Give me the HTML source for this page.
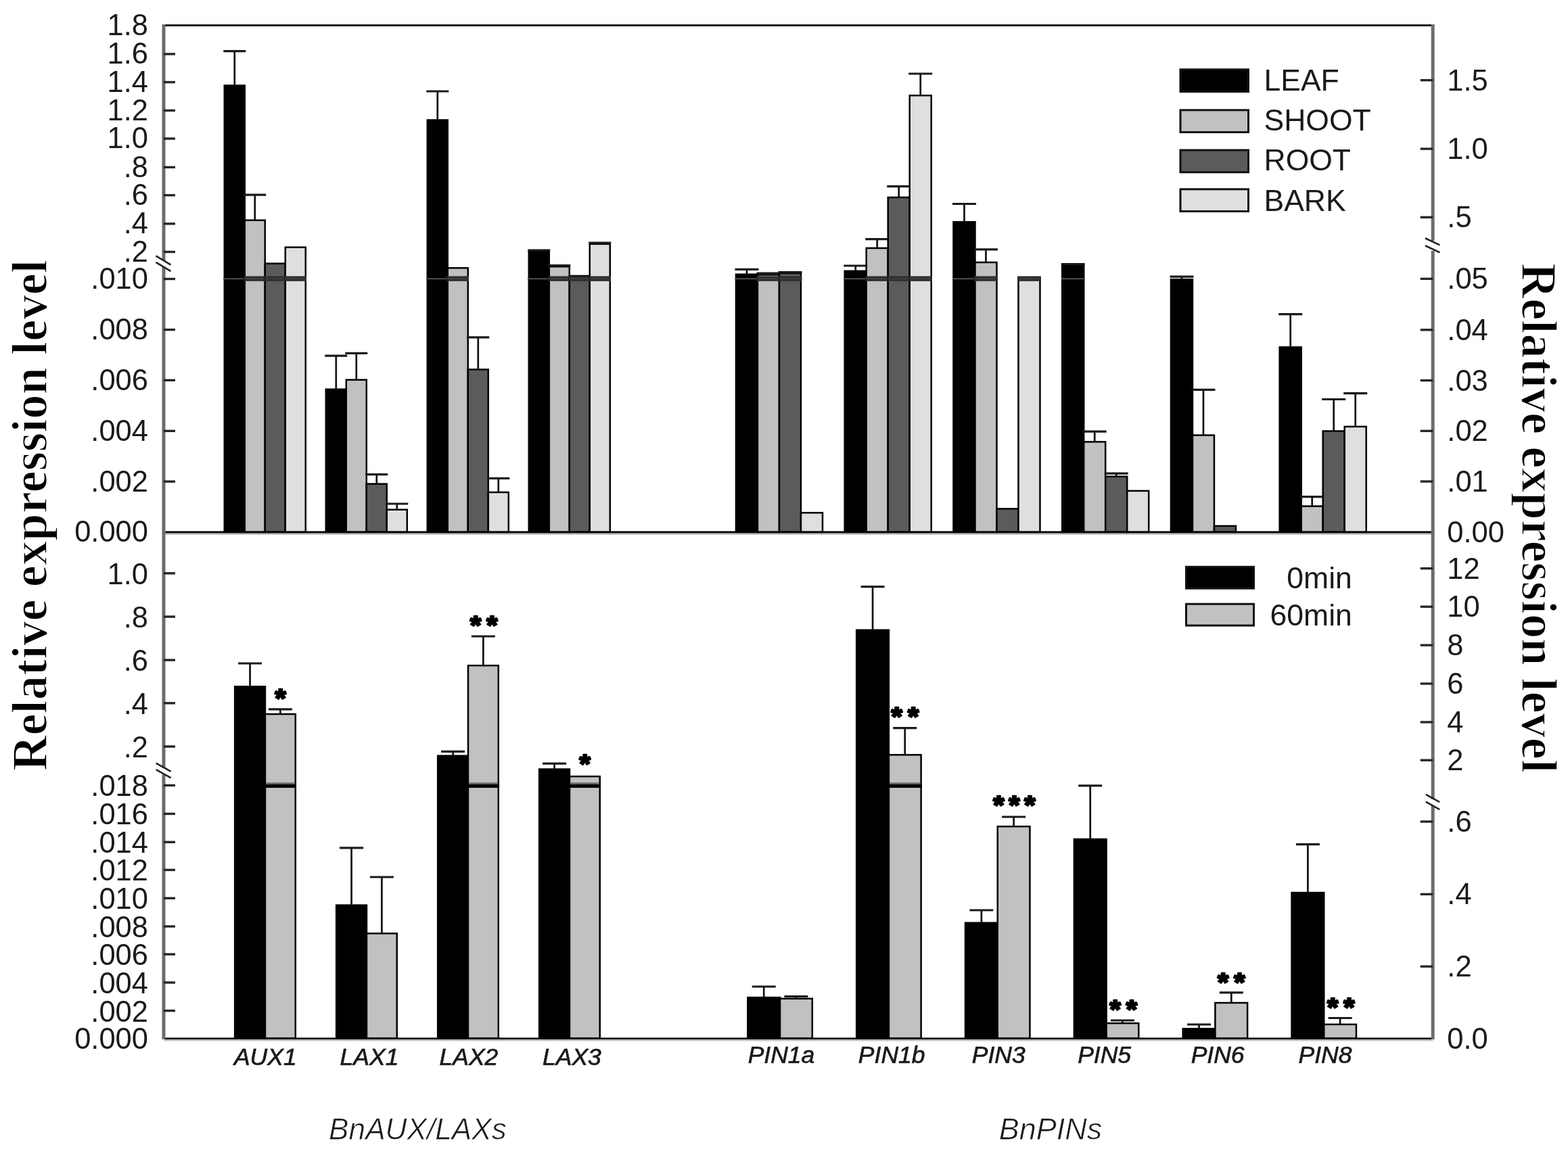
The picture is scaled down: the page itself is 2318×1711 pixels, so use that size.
<!DOCTYPE html>
<html><head><meta charset="utf-8"><title>Relative expression level</title><style>html,body{margin:0;padding:0;background:#fff;}svg{display:block;}</style></head><body>
<svg width="2318" height="1711" viewBox="0 0 2318 1711">
<rect x="0" y="0" width="2318" height="1711" fill="#fff"/>
<rect x="331.80" y="412.20" width="30.00" height="374.80" fill="#000000" stroke="#000" stroke-width="2.5"/>
<rect x="331.80" y="126.40" width="30.00" height="285.80" fill="#000000" stroke="#000" stroke-width="2.5"/>
<rect x="330.60" y="411.20" width="32.40" height="2.0" fill="#505050"/>
<line x1="346.80" y1="126.40" x2="346.80" y2="75.60" stroke="#111" stroke-width="2.7"/>
<line x1="330.30" y1="75.60" x2="363.30" y2="75.60" stroke="#1a1a1a" stroke-width="3.2"/>
<rect x="361.80" y="412.20" width="30.00" height="374.80" fill="#c1c1c1" stroke="#000" stroke-width="2.5"/>
<rect x="361.80" y="325.70" width="30.00" height="86.50" fill="#c1c1c1" stroke="#000" stroke-width="2.5"/>
<rect x="360.60" y="408.40" width="32.40" height="7.4" fill="#2e2e2e"/>
<rect x="363.00" y="411.20" width="27.60" height="2.0" fill="#3e3e3e"/>
<line x1="376.80" y1="325.70" x2="376.80" y2="288.20" stroke="#111" stroke-width="2.7"/>
<line x1="360.30" y1="288.20" x2="393.30" y2="288.20" stroke="#1a1a1a" stroke-width="3.2"/>
<rect x="391.80" y="412.20" width="30.00" height="374.80" fill="#5b5b5b" stroke="#000" stroke-width="2.5"/>
<rect x="391.80" y="389.70" width="30.00" height="22.50" fill="#5b5b5b" stroke="#000" stroke-width="2.5"/>
<rect x="390.60" y="408.40" width="32.40" height="7.4" fill="#2e2e2e"/>
<rect x="393.00" y="411.20" width="27.60" height="2.0" fill="#3e3e3e"/>
<rect x="421.80" y="412.20" width="30.00" height="374.80" fill="#dfdfdf" stroke="#000" stroke-width="2.5"/>
<rect x="421.80" y="365.70" width="30.00" height="46.50" fill="#dfdfdf" stroke="#000" stroke-width="2.5"/>
<rect x="420.60" y="408.40" width="32.40" height="7.4" fill="#2e2e2e"/>
<rect x="423.00" y="411.20" width="27.60" height="2.0" fill="#3e3e3e"/>
<rect x="481.80" y="575.70" width="30.00" height="211.30" fill="#000000" stroke="#000" stroke-width="2.5"/>
<line x1="496.80" y1="575.70" x2="496.80" y2="526.20" stroke="#111" stroke-width="2.7"/>
<line x1="480.30" y1="526.20" x2="513.30" y2="526.20" stroke="#1a1a1a" stroke-width="3.2"/>
<rect x="511.80" y="561.70" width="30.00" height="225.30" fill="#c1c1c1" stroke="#000" stroke-width="2.5"/>
<line x1="526.80" y1="561.70" x2="526.80" y2="522.40" stroke="#111" stroke-width="2.7"/>
<line x1="510.30" y1="522.40" x2="543.30" y2="522.40" stroke="#1a1a1a" stroke-width="3.2"/>
<rect x="541.80" y="715.60" width="30.00" height="71.40" fill="#5b5b5b" stroke="#000" stroke-width="2.5"/>
<line x1="556.80" y1="715.60" x2="556.80" y2="701.70" stroke="#111" stroke-width="2.7"/>
<line x1="540.30" y1="701.70" x2="573.30" y2="701.70" stroke="#1a1a1a" stroke-width="3.2"/>
<rect x="571.80" y="753.70" width="30.00" height="33.30" fill="#dfdfdf" stroke="#000" stroke-width="2.5"/>
<line x1="586.80" y1="753.70" x2="586.80" y2="745.00" stroke="#111" stroke-width="2.7"/>
<line x1="570.30" y1="745.00" x2="603.30" y2="745.00" stroke="#1a1a1a" stroke-width="3.2"/>
<rect x="631.80" y="412.20" width="30.00" height="374.80" fill="#000000" stroke="#000" stroke-width="2.5"/>
<rect x="631.80" y="177.50" width="30.00" height="234.70" fill="#000000" stroke="#000" stroke-width="2.5"/>
<rect x="630.60" y="411.20" width="32.40" height="2.0" fill="#505050"/>
<line x1="646.80" y1="177.50" x2="646.80" y2="135.00" stroke="#111" stroke-width="2.7"/>
<line x1="630.30" y1="135.00" x2="663.30" y2="135.00" stroke="#1a1a1a" stroke-width="3.2"/>
<rect x="661.80" y="412.20" width="30.00" height="374.80" fill="#c1c1c1" stroke="#000" stroke-width="2.5"/>
<rect x="661.80" y="396.30" width="30.00" height="15.90" fill="#c1c1c1" stroke="#000" stroke-width="2.5"/>
<rect x="660.60" y="408.40" width="32.40" height="7.4" fill="#2e2e2e"/>
<rect x="663.00" y="411.20" width="27.60" height="2.0" fill="#3e3e3e"/>
<rect x="691.80" y="546.40" width="30.00" height="240.60" fill="#5b5b5b" stroke="#000" stroke-width="2.5"/>
<line x1="706.80" y1="546.40" x2="706.80" y2="498.80" stroke="#111" stroke-width="2.7"/>
<line x1="690.30" y1="498.80" x2="723.30" y2="498.80" stroke="#1a1a1a" stroke-width="3.2"/>
<rect x="721.80" y="728.00" width="30.00" height="59.00" fill="#dfdfdf" stroke="#000" stroke-width="2.5"/>
<line x1="736.80" y1="728.00" x2="736.80" y2="707.40" stroke="#111" stroke-width="2.7"/>
<line x1="720.30" y1="707.40" x2="753.30" y2="707.40" stroke="#1a1a1a" stroke-width="3.2"/>
<rect x="781.80" y="412.20" width="30.00" height="374.80" fill="#000000" stroke="#000" stroke-width="2.5"/>
<rect x="781.80" y="371.70" width="30.00" height="40.50" fill="#000000" stroke="#000" stroke-width="2.5"/>
<rect x="780.60" y="411.20" width="32.40" height="2.0" fill="#505050"/>
<line x1="796.80" y1="371.70" x2="796.80" y2="370.00" stroke="#111" stroke-width="2.7"/>
<line x1="780.30" y1="370.00" x2="813.30" y2="370.00" stroke="#1a1a1a" stroke-width="3.2"/>
<rect x="811.80" y="412.20" width="30.00" height="374.80" fill="#c1c1c1" stroke="#000" stroke-width="2.5"/>
<rect x="811.80" y="394.20" width="30.00" height="18.00" fill="#c1c1c1" stroke="#000" stroke-width="2.5"/>
<rect x="810.60" y="408.40" width="32.40" height="7.4" fill="#2e2e2e"/>
<rect x="813.00" y="411.20" width="27.60" height="2.0" fill="#3e3e3e"/>
<line x1="826.80" y1="394.20" x2="826.80" y2="392.50" stroke="#111" stroke-width="2.7"/>
<line x1="810.30" y1="392.50" x2="843.30" y2="392.50" stroke="#1a1a1a" stroke-width="3.2"/>
<rect x="841.80" y="412.20" width="30.00" height="374.80" fill="#5b5b5b" stroke="#000" stroke-width="2.5"/>
<rect x="841.80" y="408.00" width="30.00" height="4.20" fill="#5b5b5b" stroke="#000" stroke-width="2.5"/>
<rect x="840.60" y="408.40" width="32.40" height="7.4" fill="#2e2e2e"/>
<rect x="843.00" y="411.20" width="27.60" height="2.0" fill="#3e3e3e"/>
<rect x="871.80" y="412.20" width="30.00" height="374.80" fill="#dfdfdf" stroke="#000" stroke-width="2.5"/>
<rect x="871.80" y="360.80" width="30.00" height="51.40" fill="#dfdfdf" stroke="#000" stroke-width="2.5"/>
<rect x="870.60" y="408.40" width="32.40" height="7.4" fill="#2e2e2e"/>
<rect x="873.00" y="411.20" width="27.60" height="2.0" fill="#3e3e3e"/>
<line x1="886.80" y1="360.80" x2="886.80" y2="359.20" stroke="#111" stroke-width="2.7"/>
<line x1="870.30" y1="359.20" x2="903.30" y2="359.20" stroke="#1a1a1a" stroke-width="3.2"/>
<rect x="1088.00" y="412.20" width="32.00" height="374.80" fill="#000000" stroke="#000" stroke-width="2.5"/>
<rect x="1088.00" y="405.70" width="32.00" height="6.50" fill="#000000" stroke="#000" stroke-width="2.5"/>
<rect x="1086.80" y="411.20" width="34.40" height="2.0" fill="#505050"/>
<line x1="1104.00" y1="405.70" x2="1104.00" y2="398.40" stroke="#111" stroke-width="2.7"/>
<line x1="1086.50" y1="398.40" x2="1121.50" y2="398.40" stroke="#1a1a1a" stroke-width="3.2"/>
<rect x="1120.00" y="412.20" width="32.00" height="374.80" fill="#c1c1c1" stroke="#000" stroke-width="2.5"/>
<rect x="1120.00" y="406.40" width="32.00" height="5.80" fill="#c1c1c1" stroke="#000" stroke-width="2.5"/>
<rect x="1118.80" y="408.40" width="34.40" height="7.4" fill="#2e2e2e"/>
<rect x="1121.20" y="411.20" width="29.60" height="2.0" fill="#3e3e3e"/>
<line x1="1136.00" y1="406.40" x2="1136.00" y2="404.00" stroke="#111" stroke-width="2.7"/>
<line x1="1118.50" y1="404.00" x2="1153.50" y2="404.00" stroke="#1a1a1a" stroke-width="3.2"/>
<rect x="1152.00" y="412.20" width="32.00" height="374.80" fill="#5b5b5b" stroke="#000" stroke-width="2.5"/>
<rect x="1152.00" y="404.00" width="32.00" height="8.20" fill="#5b5b5b" stroke="#000" stroke-width="2.5"/>
<rect x="1150.80" y="408.40" width="34.40" height="7.4" fill="#2e2e2e"/>
<rect x="1153.20" y="411.20" width="29.60" height="2.0" fill="#3e3e3e"/>
<line x1="1168.00" y1="404.00" x2="1168.00" y2="402.50" stroke="#111" stroke-width="2.7"/>
<line x1="1150.50" y1="402.50" x2="1185.50" y2="402.50" stroke="#1a1a1a" stroke-width="3.2"/>
<rect x="1184.00" y="758.30" width="32.00" height="28.70" fill="#dfdfdf" stroke="#000" stroke-width="2.5"/>
<rect x="1248.74" y="412.20" width="32.00" height="374.80" fill="#000000" stroke="#000" stroke-width="2.5"/>
<rect x="1248.74" y="400.80" width="32.00" height="11.40" fill="#000000" stroke="#000" stroke-width="2.5"/>
<rect x="1247.54" y="411.20" width="34.40" height="2.0" fill="#505050"/>
<line x1="1264.74" y1="400.80" x2="1264.74" y2="393.00" stroke="#111" stroke-width="2.7"/>
<line x1="1247.24" y1="393.00" x2="1282.24" y2="393.00" stroke="#1a1a1a" stroke-width="3.2"/>
<rect x="1280.74" y="412.20" width="32.00" height="374.80" fill="#c1c1c1" stroke="#000" stroke-width="2.5"/>
<rect x="1280.74" y="366.90" width="32.00" height="45.30" fill="#c1c1c1" stroke="#000" stroke-width="2.5"/>
<rect x="1279.54" y="408.40" width="34.40" height="7.4" fill="#2e2e2e"/>
<rect x="1281.94" y="411.20" width="29.60" height="2.0" fill="#3e3e3e"/>
<line x1="1296.74" y1="366.90" x2="1296.74" y2="353.60" stroke="#111" stroke-width="2.7"/>
<line x1="1279.24" y1="353.60" x2="1314.24" y2="353.60" stroke="#1a1a1a" stroke-width="3.2"/>
<rect x="1312.74" y="412.20" width="32.00" height="374.80" fill="#5b5b5b" stroke="#000" stroke-width="2.5"/>
<rect x="1312.74" y="291.90" width="32.00" height="120.30" fill="#5b5b5b" stroke="#000" stroke-width="2.5"/>
<rect x="1311.54" y="408.40" width="34.40" height="7.4" fill="#2e2e2e"/>
<rect x="1313.94" y="411.20" width="29.60" height="2.0" fill="#3e3e3e"/>
<line x1="1328.74" y1="291.90" x2="1328.74" y2="275.60" stroke="#111" stroke-width="2.7"/>
<line x1="1311.24" y1="275.60" x2="1346.24" y2="275.60" stroke="#1a1a1a" stroke-width="3.2"/>
<rect x="1344.74" y="412.20" width="32.00" height="374.80" fill="#dfdfdf" stroke="#000" stroke-width="2.5"/>
<rect x="1344.74" y="141.20" width="32.00" height="271.00" fill="#dfdfdf" stroke="#000" stroke-width="2.5"/>
<rect x="1343.54" y="408.40" width="34.40" height="7.4" fill="#2e2e2e"/>
<rect x="1345.94" y="411.20" width="29.60" height="2.0" fill="#3e3e3e"/>
<line x1="1360.74" y1="141.20" x2="1360.74" y2="109.00" stroke="#111" stroke-width="2.7"/>
<line x1="1343.24" y1="109.00" x2="1378.24" y2="109.00" stroke="#1a1a1a" stroke-width="3.2"/>
<rect x="1409.48" y="412.20" width="32.00" height="374.80" fill="#000000" stroke="#000" stroke-width="2.5"/>
<rect x="1409.48" y="328.20" width="32.00" height="84.00" fill="#000000" stroke="#000" stroke-width="2.5"/>
<rect x="1408.28" y="411.20" width="34.40" height="2.0" fill="#505050"/>
<line x1="1425.48" y1="328.20" x2="1425.48" y2="301.50" stroke="#111" stroke-width="2.7"/>
<line x1="1407.98" y1="301.50" x2="1442.98" y2="301.50" stroke="#1a1a1a" stroke-width="3.2"/>
<rect x="1441.48" y="412.20" width="32.00" height="374.80" fill="#c1c1c1" stroke="#000" stroke-width="2.5"/>
<rect x="1441.48" y="388.00" width="32.00" height="24.20" fill="#c1c1c1" stroke="#000" stroke-width="2.5"/>
<rect x="1440.28" y="408.40" width="34.40" height="7.4" fill="#2e2e2e"/>
<rect x="1442.68" y="411.20" width="29.60" height="2.0" fill="#3e3e3e"/>
<line x1="1457.48" y1="388.00" x2="1457.48" y2="368.80" stroke="#111" stroke-width="2.7"/>
<line x1="1439.98" y1="368.80" x2="1474.98" y2="368.80" stroke="#1a1a1a" stroke-width="3.2"/>
<rect x="1473.48" y="752.40" width="32.00" height="34.60" fill="#5b5b5b" stroke="#000" stroke-width="2.5"/>
<rect x="1505.48" y="412.20" width="32.00" height="374.80" fill="#dfdfdf" stroke="#000" stroke-width="2.5"/>
<rect x="1505.48" y="410.20" width="32.00" height="2.00" fill="#dfdfdf" stroke="#000" stroke-width="2.5"/>
<rect x="1504.28" y="408.40" width="34.40" height="7.4" fill="#2e2e2e"/>
<rect x="1506.68" y="411.20" width="29.60" height="2.0" fill="#3e3e3e"/>
<rect x="1570.22" y="412.20" width="32.00" height="374.80" fill="#000000" stroke="#000" stroke-width="2.5"/>
<rect x="1570.22" y="392.20" width="32.00" height="20.00" fill="#000000" stroke="#000" stroke-width="2.5"/>
<rect x="1569.02" y="411.20" width="34.40" height="2.0" fill="#505050"/>
<line x1="1586.22" y1="392.20" x2="1586.22" y2="390.50" stroke="#111" stroke-width="2.7"/>
<line x1="1568.72" y1="390.50" x2="1603.72" y2="390.50" stroke="#1a1a1a" stroke-width="3.2"/>
<rect x="1602.22" y="653.40" width="32.00" height="133.60" fill="#c1c1c1" stroke="#000" stroke-width="2.5"/>
<line x1="1618.22" y1="653.40" x2="1618.22" y2="638.10" stroke="#111" stroke-width="2.7"/>
<line x1="1600.72" y1="638.10" x2="1635.72" y2="638.10" stroke="#1a1a1a" stroke-width="3.2"/>
<rect x="1634.22" y="704.70" width="32.00" height="82.30" fill="#5b5b5b" stroke="#000" stroke-width="2.5"/>
<line x1="1650.22" y1="704.70" x2="1650.22" y2="700.20" stroke="#111" stroke-width="2.7"/>
<line x1="1632.72" y1="700.20" x2="1667.72" y2="700.20" stroke="#1a1a1a" stroke-width="3.2"/>
<rect x="1666.22" y="725.90" width="32.00" height="61.10" fill="#dfdfdf" stroke="#000" stroke-width="2.5"/>
<rect x="1730.96" y="413.20" width="32.00" height="373.80" fill="#000000" stroke="#000" stroke-width="2.5"/>
<line x1="1746.96" y1="413.20" x2="1746.96" y2="409.20" stroke="#111" stroke-width="2.7"/>
<line x1="1729.46" y1="409.20" x2="1764.46" y2="409.20" stroke="#1a1a1a" stroke-width="3.2"/>
<rect x="1762.96" y="643.60" width="32.00" height="143.40" fill="#c1c1c1" stroke="#000" stroke-width="2.5"/>
<line x1="1778.96" y1="643.60" x2="1778.96" y2="576.30" stroke="#111" stroke-width="2.7"/>
<line x1="1761.46" y1="576.30" x2="1796.46" y2="576.30" stroke="#1a1a1a" stroke-width="3.2"/>
<rect x="1794.96" y="777.80" width="32.00" height="9.20" fill="#5b5b5b" stroke="#000" stroke-width="2.5"/>
<rect x="1826.96" y="787.20" width="32.00" height="-0.20" fill="#dfdfdf" stroke="#000" stroke-width="2.5"/>
<rect x="1891.70" y="513.40" width="32.00" height="273.60" fill="#000000" stroke="#000" stroke-width="2.5"/>
<line x1="1907.70" y1="513.40" x2="1907.70" y2="464.70" stroke="#111" stroke-width="2.7"/>
<line x1="1890.20" y1="464.70" x2="1925.20" y2="464.70" stroke="#1a1a1a" stroke-width="3.2"/>
<rect x="1923.70" y="748.60" width="32.00" height="38.40" fill="#c1c1c1" stroke="#000" stroke-width="2.5"/>
<line x1="1939.70" y1="748.60" x2="1939.70" y2="734.70" stroke="#111" stroke-width="2.7"/>
<line x1="1922.20" y1="734.70" x2="1957.20" y2="734.70" stroke="#1a1a1a" stroke-width="3.2"/>
<rect x="1955.70" y="637.50" width="32.00" height="149.50" fill="#5b5b5b" stroke="#000" stroke-width="2.5"/>
<line x1="1971.70" y1="637.50" x2="1971.70" y2="590.50" stroke="#111" stroke-width="2.7"/>
<line x1="1954.20" y1="590.50" x2="1989.20" y2="590.50" stroke="#1a1a1a" stroke-width="3.2"/>
<rect x="1987.70" y="630.90" width="32.00" height="156.10" fill="#dfdfdf" stroke="#000" stroke-width="2.5"/>
<line x1="2003.70" y1="630.90" x2="2003.70" y2="581.60" stroke="#111" stroke-width="2.7"/>
<line x1="1986.20" y1="581.60" x2="2021.20" y2="581.60" stroke="#1a1a1a" stroke-width="3.2"/>
<rect x="347.20" y="1161.50" width="44.80" height="374.10" fill="#000000" stroke="#000" stroke-width="2.5"/>
<rect x="347.20" y="1015.30" width="44.80" height="146.20" fill="#000000" stroke="#000" stroke-width="2.5"/>
<rect x="346.00" y="1160.00" width="47.20" height="5.0" fill="#000"/>
<line x1="369.60" y1="1015.30" x2="369.60" y2="981.00" stroke="#111" stroke-width="2.7"/>
<line x1="352.10" y1="981.00" x2="387.10" y2="981.00" stroke="#1a1a1a" stroke-width="3.2"/>
<rect x="392.00" y="1161.50" width="44.80" height="374.10" fill="#c1c1c1" stroke="#000" stroke-width="2.5"/>
<rect x="392.00" y="1056.00" width="44.80" height="105.50" fill="#c1c1c1" stroke="#000" stroke-width="2.5"/>
<rect x="393.20" y="1157.30" width="42.40" height="2.8" fill="#666"/>
<rect x="390.80" y="1160.00" width="47.20" height="5.0" fill="#000"/>
<line x1="414.40" y1="1056.00" x2="414.40" y2="1048.80" stroke="#111" stroke-width="2.7"/>
<line x1="396.90" y1="1048.80" x2="431.90" y2="1048.80" stroke="#1a1a1a" stroke-width="3.2"/>
<rect x="497.20" y="1338.60" width="44.80" height="197.00" fill="#000000" stroke="#000" stroke-width="2.5"/>
<line x1="519.60" y1="1338.60" x2="519.60" y2="1253.90" stroke="#111" stroke-width="2.7"/>
<line x1="502.10" y1="1253.90" x2="537.10" y2="1253.90" stroke="#1a1a1a" stroke-width="3.2"/>
<rect x="542.00" y="1380.40" width="44.80" height="155.20" fill="#c1c1c1" stroke="#000" stroke-width="2.5"/>
<line x1="564.40" y1="1380.40" x2="564.40" y2="1297.00" stroke="#111" stroke-width="2.7"/>
<line x1="546.90" y1="1297.00" x2="581.90" y2="1297.00" stroke="#1a1a1a" stroke-width="3.2"/>
<rect x="647.20" y="1161.50" width="44.80" height="374.10" fill="#000000" stroke="#000" stroke-width="2.5"/>
<rect x="647.20" y="1117.70" width="44.80" height="43.80" fill="#000000" stroke="#000" stroke-width="2.5"/>
<rect x="646.00" y="1160.00" width="47.20" height="5.0" fill="#000"/>
<line x1="669.60" y1="1117.70" x2="669.60" y2="1111.40" stroke="#111" stroke-width="2.7"/>
<line x1="652.10" y1="1111.40" x2="687.10" y2="1111.40" stroke="#1a1a1a" stroke-width="3.2"/>
<rect x="692.00" y="1161.50" width="44.80" height="374.10" fill="#c1c1c1" stroke="#000" stroke-width="2.5"/>
<rect x="692.00" y="984.20" width="44.80" height="177.30" fill="#c1c1c1" stroke="#000" stroke-width="2.5"/>
<rect x="693.20" y="1157.30" width="42.40" height="2.8" fill="#666"/>
<rect x="690.80" y="1160.00" width="47.20" height="5.0" fill="#000"/>
<line x1="714.40" y1="984.20" x2="714.40" y2="941.00" stroke="#111" stroke-width="2.7"/>
<line x1="696.90" y1="941.00" x2="731.90" y2="941.00" stroke="#1a1a1a" stroke-width="3.2"/>
<rect x="797.20" y="1161.50" width="44.80" height="374.10" fill="#000000" stroke="#000" stroke-width="2.5"/>
<rect x="797.20" y="1137.50" width="44.80" height="24.00" fill="#000000" stroke="#000" stroke-width="2.5"/>
<rect x="796.00" y="1160.00" width="47.20" height="5.0" fill="#000"/>
<line x1="819.60" y1="1137.50" x2="819.60" y2="1129.20" stroke="#111" stroke-width="2.7"/>
<line x1="802.10" y1="1129.20" x2="837.10" y2="1129.20" stroke="#1a1a1a" stroke-width="3.2"/>
<rect x="842.00" y="1161.50" width="44.80" height="374.10" fill="#c1c1c1" stroke="#000" stroke-width="2.5"/>
<rect x="842.00" y="1148.20" width="44.80" height="13.30" fill="#c1c1c1" stroke="#000" stroke-width="2.5"/>
<rect x="843.20" y="1157.30" width="42.40" height="2.8" fill="#666"/>
<rect x="840.80" y="1160.00" width="47.20" height="5.0" fill="#000"/>
<rect x="1105.40" y="1475.10" width="47.70" height="60.50" fill="#000000" stroke="#000" stroke-width="2.5"/>
<line x1="1129.25" y1="1475.10" x2="1129.25" y2="1459.00" stroke="#111" stroke-width="2.7"/>
<line x1="1111.75" y1="1459.00" x2="1146.75" y2="1459.00" stroke="#1a1a1a" stroke-width="3.2"/>
<rect x="1153.10" y="1476.80" width="47.70" height="58.80" fill="#c1c1c1" stroke="#000" stroke-width="2.5"/>
<line x1="1176.95" y1="1476.80" x2="1176.95" y2="1473.50" stroke="#111" stroke-width="2.7"/>
<line x1="1159.45" y1="1473.50" x2="1194.45" y2="1473.50" stroke="#1a1a1a" stroke-width="3.2"/>
<rect x="1266.23" y="1161.50" width="47.70" height="374.10" fill="#000000" stroke="#000" stroke-width="2.5"/>
<rect x="1266.23" y="931.70" width="47.70" height="229.80" fill="#000000" stroke="#000" stroke-width="2.5"/>
<rect x="1265.03" y="1160.00" width="50.10" height="5.0" fill="#000"/>
<line x1="1290.08" y1="931.70" x2="1290.08" y2="867.70" stroke="#111" stroke-width="2.7"/>
<line x1="1272.58" y1="867.70" x2="1307.58" y2="867.70" stroke="#1a1a1a" stroke-width="3.2"/>
<rect x="1313.93" y="1161.50" width="47.70" height="374.10" fill="#c1c1c1" stroke="#000" stroke-width="2.5"/>
<rect x="1313.93" y="1116.30" width="47.70" height="45.20" fill="#c1c1c1" stroke="#000" stroke-width="2.5"/>
<rect x="1315.13" y="1157.30" width="45.30" height="2.8" fill="#666"/>
<rect x="1312.73" y="1160.00" width="50.10" height="5.0" fill="#000"/>
<line x1="1337.78" y1="1116.30" x2="1337.78" y2="1076.70" stroke="#111" stroke-width="2.7"/>
<line x1="1320.28" y1="1076.70" x2="1355.28" y2="1076.70" stroke="#1a1a1a" stroke-width="3.2"/>
<rect x="1427.06" y="1364.70" width="47.70" height="170.90" fill="#000000" stroke="#000" stroke-width="2.5"/>
<line x1="1450.91" y1="1364.70" x2="1450.91" y2="1346.00" stroke="#111" stroke-width="2.7"/>
<line x1="1433.41" y1="1346.00" x2="1468.41" y2="1346.00" stroke="#1a1a1a" stroke-width="3.2"/>
<rect x="1474.76" y="1222.20" width="47.70" height="313.40" fill="#c1c1c1" stroke="#000" stroke-width="2.5"/>
<line x1="1498.61" y1="1222.20" x2="1498.61" y2="1208.00" stroke="#111" stroke-width="2.7"/>
<line x1="1481.11" y1="1208.00" x2="1516.11" y2="1208.00" stroke="#1a1a1a" stroke-width="3.2"/>
<rect x="1587.89" y="1241.00" width="47.70" height="294.60" fill="#000000" stroke="#000" stroke-width="2.5"/>
<line x1="1611.74" y1="1241.00" x2="1611.74" y2="1161.90" stroke="#111" stroke-width="2.7"/>
<line x1="1594.24" y1="1161.90" x2="1629.24" y2="1161.90" stroke="#1a1a1a" stroke-width="3.2"/>
<rect x="1635.59" y="1513.20" width="47.70" height="22.40" fill="#c1c1c1" stroke="#000" stroke-width="2.5"/>
<line x1="1659.44" y1="1513.20" x2="1659.44" y2="1509.00" stroke="#111" stroke-width="2.7"/>
<line x1="1641.94" y1="1509.00" x2="1676.94" y2="1509.00" stroke="#1a1a1a" stroke-width="3.2"/>
<rect x="1748.72" y="1521.30" width="47.70" height="14.30" fill="#000000" stroke="#000" stroke-width="2.5"/>
<line x1="1772.57" y1="1521.30" x2="1772.57" y2="1515.00" stroke="#111" stroke-width="2.7"/>
<line x1="1755.07" y1="1515.00" x2="1790.07" y2="1515.00" stroke="#1a1a1a" stroke-width="3.2"/>
<rect x="1796.42" y="1483.00" width="47.70" height="52.60" fill="#c1c1c1" stroke="#000" stroke-width="2.5"/>
<line x1="1820.27" y1="1483.00" x2="1820.27" y2="1467.90" stroke="#111" stroke-width="2.7"/>
<line x1="1802.77" y1="1467.90" x2="1837.77" y2="1467.90" stroke="#1a1a1a" stroke-width="3.2"/>
<rect x="1909.55" y="1320.10" width="47.70" height="215.50" fill="#000000" stroke="#000" stroke-width="2.5"/>
<line x1="1933.40" y1="1320.10" x2="1933.40" y2="1248.60" stroke="#111" stroke-width="2.7"/>
<line x1="1915.90" y1="1248.60" x2="1950.90" y2="1248.60" stroke="#1a1a1a" stroke-width="3.2"/>
<rect x="1957.25" y="1514.90" width="47.70" height="20.70" fill="#c1c1c1" stroke="#000" stroke-width="2.5"/>
<line x1="1981.10" y1="1514.90" x2="1981.10" y2="1505.50" stroke="#111" stroke-width="2.7"/>
<line x1="1963.60" y1="1505.50" x2="1998.60" y2="1505.50" stroke="#1a1a1a" stroke-width="3.2"/>
<line x1="240.00" y1="37.50" x2="2120.20" y2="37.50" stroke="#111" stroke-width="3"/>
<line x1="242.00" y1="787.00" x2="2118.20" y2="787.00" stroke="#000" stroke-width="3"/>
<line x1="242.00" y1="789.60" x2="2118.20" y2="789.60" stroke="#aaa" stroke-width="2"/>
<line x1="242.00" y1="1535.90" x2="2118.20" y2="1535.90" stroke="#000" stroke-width="2.6"/>
<line x1="242.00" y1="1538.30" x2="2118.20" y2="1538.30" stroke="#bbb" stroke-width="2.2"/>
<line x1="242.00" y1="36.00" x2="242.00" y2="385.00" stroke="#6c6c6c" stroke-width="5.0"/>
<line x1="242.00" y1="394.50" x2="242.00" y2="788.50" stroke="#6c6c6c" stroke-width="5.0"/>
<line x1="2118.20" y1="36.00" x2="2118.20" y2="356.00" stroke="#6c6c6c" stroke-width="5.0"/>
<line x1="2118.20" y1="371.00" x2="2118.20" y2="788.50" stroke="#6c6c6c" stroke-width="5.0"/>
<line x1="242.00" y1="787.00" x2="242.00" y2="1136.00" stroke="#6c6c6c" stroke-width="5.0"/>
<line x1="242.00" y1="1145.50" x2="242.00" y2="1537.10" stroke="#6c6c6c" stroke-width="5.0"/>
<line x1="2118.20" y1="787.00" x2="2118.20" y2="1182.00" stroke="#6c6c6c" stroke-width="5.0"/>
<line x1="2118.20" y1="1191.00" x2="2118.20" y2="1537.10" stroke="#6c6c6c" stroke-width="5.0"/>
<line x1="230.50" y1="378.45" x2="252.50" y2="391.65" stroke="#222" stroke-width="2.6"/>
<line x1="230.50" y1="387.95" x2="252.50" y2="401.15" stroke="#222" stroke-width="2.6"/>
<line x1="2106.90" y1="352.22" x2="2128.50" y2="362.38" stroke="#222" stroke-width="2.6"/>
<line x1="2106.90" y1="363.22" x2="2128.50" y2="373.38" stroke="#222" stroke-width="2.6"/>
<line x1="230.70" y1="1128.59" x2="252.70" y2="1140.91" stroke="#222" stroke-width="2.6"/>
<line x1="230.70" y1="1138.09" x2="252.70" y2="1150.41" stroke="#222" stroke-width="2.6"/>
<line x1="2107.80" y1="1174.79" x2="2128.20" y2="1186.21" stroke="#222" stroke-width="2.6"/>
<line x1="2107.80" y1="1185.59" x2="2128.20" y2="1197.01" stroke="#222" stroke-width="2.6"/>
<line x1="242.00" y1="79.90" x2="259.00" y2="79.90" stroke="#262626" stroke-width="3.4"/>
<line x1="242.00" y1="121.50" x2="259.00" y2="121.50" stroke="#262626" stroke-width="3.4"/>
<line x1="242.00" y1="163.40" x2="259.00" y2="163.40" stroke="#262626" stroke-width="3.4"/>
<line x1="242.00" y1="205.00" x2="259.00" y2="205.00" stroke="#262626" stroke-width="3.4"/>
<line x1="242.00" y1="247.30" x2="259.00" y2="247.30" stroke="#262626" stroke-width="3.4"/>
<line x1="242.00" y1="288.70" x2="259.00" y2="288.70" stroke="#262626" stroke-width="3.4"/>
<line x1="242.00" y1="330.90" x2="259.00" y2="330.90" stroke="#262626" stroke-width="3.4"/>
<line x1="242.00" y1="372.50" x2="259.00" y2="372.50" stroke="#262626" stroke-width="3.4"/>
<line x1="242.00" y1="412.50" x2="259.00" y2="412.50" stroke="#262626" stroke-width="3.4"/>
<line x1="242.00" y1="487.60" x2="259.00" y2="487.60" stroke="#262626" stroke-width="3.4"/>
<line x1="242.00" y1="562.30" x2="259.00" y2="562.30" stroke="#262626" stroke-width="3.4"/>
<line x1="242.00" y1="637.30" x2="259.00" y2="637.30" stroke="#262626" stroke-width="3.4"/>
<line x1="242.00" y1="712.10" x2="259.00" y2="712.10" stroke="#262626" stroke-width="3.4"/>
<line x1="2099.70" y1="118.60" x2="2118.20" y2="118.60" stroke="#262626" stroke-width="3.4"/>
<line x1="2099.70" y1="220.10" x2="2118.20" y2="220.10" stroke="#262626" stroke-width="3.4"/>
<line x1="2099.70" y1="321.30" x2="2118.20" y2="321.30" stroke="#262626" stroke-width="3.4"/>
<line x1="2099.70" y1="412.30" x2="2118.20" y2="412.30" stroke="#262626" stroke-width="3.4"/>
<line x1="2099.70" y1="487.80" x2="2118.20" y2="487.80" stroke="#262626" stroke-width="3.4"/>
<line x1="2099.70" y1="562.60" x2="2118.20" y2="562.60" stroke="#262626" stroke-width="3.4"/>
<line x1="2099.70" y1="637.30" x2="2118.20" y2="637.30" stroke="#262626" stroke-width="3.4"/>
<line x1="2099.70" y1="712.00" x2="2118.20" y2="712.00" stroke="#262626" stroke-width="3.4"/>
<line x1="242.00" y1="847.80" x2="259.00" y2="847.80" stroke="#262626" stroke-width="3.4"/>
<line x1="242.00" y1="912.00" x2="259.00" y2="912.00" stroke="#262626" stroke-width="3.4"/>
<line x1="242.00" y1="976.10" x2="259.00" y2="976.10" stroke="#262626" stroke-width="3.4"/>
<line x1="242.00" y1="1039.80" x2="259.00" y2="1039.80" stroke="#262626" stroke-width="3.4"/>
<line x1="242.00" y1="1104.00" x2="259.00" y2="1104.00" stroke="#262626" stroke-width="3.4"/>
<line x1="242.00" y1="1161.40" x2="259.00" y2="1161.40" stroke="#262626" stroke-width="3.4"/>
<line x1="242.00" y1="1203.50" x2="259.00" y2="1203.50" stroke="#262626" stroke-width="3.4"/>
<line x1="242.00" y1="1245.30" x2="259.00" y2="1245.30" stroke="#262626" stroke-width="3.4"/>
<line x1="242.00" y1="1286.50" x2="259.00" y2="1286.50" stroke="#262626" stroke-width="3.4"/>
<line x1="242.00" y1="1328.30" x2="259.00" y2="1328.30" stroke="#262626" stroke-width="3.4"/>
<line x1="242.00" y1="1370.00" x2="259.00" y2="1370.00" stroke="#262626" stroke-width="3.4"/>
<line x1="242.00" y1="1411.20" x2="259.00" y2="1411.20" stroke="#262626" stroke-width="3.4"/>
<line x1="242.00" y1="1453.00" x2="259.00" y2="1453.00" stroke="#262626" stroke-width="3.4"/>
<line x1="242.00" y1="1494.70" x2="259.00" y2="1494.70" stroke="#262626" stroke-width="3.4"/>
<line x1="2099.70" y1="840.60" x2="2118.20" y2="840.60" stroke="#262626" stroke-width="3.4"/>
<line x1="2099.70" y1="897.20" x2="2118.20" y2="897.20" stroke="#262626" stroke-width="3.4"/>
<line x1="2099.70" y1="954.10" x2="2118.20" y2="954.10" stroke="#262626" stroke-width="3.4"/>
<line x1="2099.70" y1="1011.00" x2="2118.20" y2="1011.00" stroke="#262626" stroke-width="3.4"/>
<line x1="2099.70" y1="1067.90" x2="2118.20" y2="1067.90" stroke="#262626" stroke-width="3.4"/>
<line x1="2099.70" y1="1124.20" x2="2118.20" y2="1124.20" stroke="#262626" stroke-width="3.4"/>
<line x1="2099.70" y1="1215.00" x2="2118.20" y2="1215.00" stroke="#262626" stroke-width="3.4"/>
<line x1="2099.70" y1="1322.40" x2="2118.20" y2="1322.40" stroke="#262626" stroke-width="3.4"/>
<line x1="2099.70" y1="1429.20" x2="2118.20" y2="1429.20" stroke="#262626" stroke-width="3.4"/>
<text x="219.00" y="51.90" font-family="'Liberation Sans', Arial, sans-serif" font-size="43.5" font-weight="normal" font-style="normal" text-anchor="end" fill="#1a1a1a" >1.8</text>
<text x="219.00" y="94.30" font-family="'Liberation Sans', Arial, sans-serif" font-size="43.5" font-weight="normal" font-style="normal" text-anchor="end" fill="#1a1a1a" >1.6</text>
<text x="219.00" y="135.90" font-family="'Liberation Sans', Arial, sans-serif" font-size="43.5" font-weight="normal" font-style="normal" text-anchor="end" fill="#1a1a1a" >1.4</text>
<text x="219.00" y="177.80" font-family="'Liberation Sans', Arial, sans-serif" font-size="43.5" font-weight="normal" font-style="normal" text-anchor="end" fill="#1a1a1a" >1.2</text>
<text x="219.00" y="219.40" font-family="'Liberation Sans', Arial, sans-serif" font-size="43.5" font-weight="normal" font-style="normal" text-anchor="end" fill="#1a1a1a" >1.0</text>
<text x="219.00" y="261.70" font-family="'Liberation Sans', Arial, sans-serif" font-size="43.5" font-weight="normal" font-style="normal" text-anchor="end" fill="#1a1a1a" >.8</text>
<text x="219.00" y="303.10" font-family="'Liberation Sans', Arial, sans-serif" font-size="43.5" font-weight="normal" font-style="normal" text-anchor="end" fill="#1a1a1a" >.6</text>
<text x="219.00" y="345.30" font-family="'Liberation Sans', Arial, sans-serif" font-size="43.5" font-weight="normal" font-style="normal" text-anchor="end" fill="#1a1a1a" >.4</text>
<text x="219.00" y="386.90" font-family="'Liberation Sans', Arial, sans-serif" font-size="43.5" font-weight="normal" font-style="normal" text-anchor="end" fill="#1a1a1a" >.2</text>
<text x="219.00" y="426.90" font-family="'Liberation Sans', Arial, sans-serif" font-size="43.5" font-weight="normal" font-style="normal" text-anchor="end" fill="#1a1a1a" >.010</text>
<text x="219.00" y="502.00" font-family="'Liberation Sans', Arial, sans-serif" font-size="43.5" font-weight="normal" font-style="normal" text-anchor="end" fill="#1a1a1a" >.008</text>
<text x="219.00" y="576.70" font-family="'Liberation Sans', Arial, sans-serif" font-size="43.5" font-weight="normal" font-style="normal" text-anchor="end" fill="#1a1a1a" >.006</text>
<text x="219.00" y="651.70" font-family="'Liberation Sans', Arial, sans-serif" font-size="43.5" font-weight="normal" font-style="normal" text-anchor="end" fill="#1a1a1a" >.004</text>
<text x="219.00" y="726.50" font-family="'Liberation Sans', Arial, sans-serif" font-size="43.5" font-weight="normal" font-style="normal" text-anchor="end" fill="#1a1a1a" >.002</text>
<text x="219.00" y="800.90" font-family="'Liberation Sans', Arial, sans-serif" font-size="43.5" font-weight="normal" font-style="normal" text-anchor="end" fill="#1a1a1a" >0.000</text>
<text x="219.00" y="863.60" font-family="'Liberation Sans', Arial, sans-serif" font-size="43.5" font-weight="normal" font-style="normal" text-anchor="end" fill="#1a1a1a" >1.0</text>
<text x="219.00" y="927.80" font-family="'Liberation Sans', Arial, sans-serif" font-size="43.5" font-weight="normal" font-style="normal" text-anchor="end" fill="#1a1a1a" >.8</text>
<text x="219.00" y="991.90" font-family="'Liberation Sans', Arial, sans-serif" font-size="43.5" font-weight="normal" font-style="normal" text-anchor="end" fill="#1a1a1a" >.6</text>
<text x="219.00" y="1055.60" font-family="'Liberation Sans', Arial, sans-serif" font-size="43.5" font-weight="normal" font-style="normal" text-anchor="end" fill="#1a1a1a" >.4</text>
<text x="219.00" y="1119.80" font-family="'Liberation Sans', Arial, sans-serif" font-size="43.5" font-weight="normal" font-style="normal" text-anchor="end" fill="#1a1a1a" >.2</text>
<text x="219.00" y="1177.20" font-family="'Liberation Sans', Arial, sans-serif" font-size="43.5" font-weight="normal" font-style="normal" text-anchor="end" fill="#1a1a1a" >.018</text>
<text x="219.00" y="1219.30" font-family="'Liberation Sans', Arial, sans-serif" font-size="43.5" font-weight="normal" font-style="normal" text-anchor="end" fill="#1a1a1a" >.016</text>
<text x="219.00" y="1261.10" font-family="'Liberation Sans', Arial, sans-serif" font-size="43.5" font-weight="normal" font-style="normal" text-anchor="end" fill="#1a1a1a" >.014</text>
<text x="219.00" y="1302.30" font-family="'Liberation Sans', Arial, sans-serif" font-size="43.5" font-weight="normal" font-style="normal" text-anchor="end" fill="#1a1a1a" >.012</text>
<text x="219.00" y="1344.10" font-family="'Liberation Sans', Arial, sans-serif" font-size="43.5" font-weight="normal" font-style="normal" text-anchor="end" fill="#1a1a1a" >.010</text>
<text x="219.00" y="1385.80" font-family="'Liberation Sans', Arial, sans-serif" font-size="43.5" font-weight="normal" font-style="normal" text-anchor="end" fill="#1a1a1a" >.008</text>
<text x="219.00" y="1427.00" font-family="'Liberation Sans', Arial, sans-serif" font-size="43.5" font-weight="normal" font-style="normal" text-anchor="end" fill="#1a1a1a" >.006</text>
<text x="219.00" y="1468.80" font-family="'Liberation Sans', Arial, sans-serif" font-size="43.5" font-weight="normal" font-style="normal" text-anchor="end" fill="#1a1a1a" >.004</text>
<text x="219.00" y="1510.50" font-family="'Liberation Sans', Arial, sans-serif" font-size="43.5" font-weight="normal" font-style="normal" text-anchor="end" fill="#1a1a1a" >.002</text>
<text x="219.00" y="1551.40" font-family="'Liberation Sans', Arial, sans-serif" font-size="43.5" font-weight="normal" font-style="normal" text-anchor="end" fill="#1a1a1a" >0.000</text>
<text x="2139.30" y="133.60" font-family="'Liberation Sans', Arial, sans-serif" font-size="43.5" font-weight="normal" font-style="normal" text-anchor="start" fill="#1a1a1a" >1.5</text>
<text x="2139.30" y="235.10" font-family="'Liberation Sans', Arial, sans-serif" font-size="43.5" font-weight="normal" font-style="normal" text-anchor="start" fill="#1a1a1a" >1.0</text>
<text x="2139.30" y="336.30" font-family="'Liberation Sans', Arial, sans-serif" font-size="43.5" font-weight="normal" font-style="normal" text-anchor="start" fill="#1a1a1a" >.5</text>
<text x="2139.30" y="427.30" font-family="'Liberation Sans', Arial, sans-serif" font-size="43.5" font-weight="normal" font-style="normal" text-anchor="start" fill="#1a1a1a" >.05</text>
<text x="2139.30" y="502.80" font-family="'Liberation Sans', Arial, sans-serif" font-size="43.5" font-weight="normal" font-style="normal" text-anchor="start" fill="#1a1a1a" >.04</text>
<text x="2139.30" y="577.60" font-family="'Liberation Sans', Arial, sans-serif" font-size="43.5" font-weight="normal" font-style="normal" text-anchor="start" fill="#1a1a1a" >.03</text>
<text x="2139.30" y="652.30" font-family="'Liberation Sans', Arial, sans-serif" font-size="43.5" font-weight="normal" font-style="normal" text-anchor="start" fill="#1a1a1a" >.02</text>
<text x="2139.30" y="727.00" font-family="'Liberation Sans', Arial, sans-serif" font-size="43.5" font-weight="normal" font-style="normal" text-anchor="start" fill="#1a1a1a" >.01</text>
<text x="2139.30" y="801.50" font-family="'Liberation Sans', Arial, sans-serif" font-size="43.5" font-weight="normal" font-style="normal" text-anchor="start" fill="#1a1a1a" >0.00</text>
<text x="2139.30" y="855.60" font-family="'Liberation Sans', Arial, sans-serif" font-size="43.5" font-weight="normal" font-style="normal" text-anchor="start" fill="#1a1a1a" >12</text>
<text x="2139.30" y="912.20" font-family="'Liberation Sans', Arial, sans-serif" font-size="43.5" font-weight="normal" font-style="normal" text-anchor="start" fill="#1a1a1a" >10</text>
<text x="2139.30" y="969.10" font-family="'Liberation Sans', Arial, sans-serif" font-size="43.5" font-weight="normal" font-style="normal" text-anchor="start" fill="#1a1a1a" >8</text>
<text x="2139.30" y="1026.00" font-family="'Liberation Sans', Arial, sans-serif" font-size="43.5" font-weight="normal" font-style="normal" text-anchor="start" fill="#1a1a1a" >6</text>
<text x="2139.30" y="1082.90" font-family="'Liberation Sans', Arial, sans-serif" font-size="43.5" font-weight="normal" font-style="normal" text-anchor="start" fill="#1a1a1a" >4</text>
<text x="2139.30" y="1139.20" font-family="'Liberation Sans', Arial, sans-serif" font-size="43.5" font-weight="normal" font-style="normal" text-anchor="start" fill="#1a1a1a" >2</text>
<text x="2139.30" y="1230.00" font-family="'Liberation Sans', Arial, sans-serif" font-size="43.5" font-weight="normal" font-style="normal" text-anchor="start" fill="#1a1a1a" >.6</text>
<text x="2139.30" y="1337.40" font-family="'Liberation Sans', Arial, sans-serif" font-size="43.5" font-weight="normal" font-style="normal" text-anchor="start" fill="#1a1a1a" >.4</text>
<text x="2139.30" y="1444.20" font-family="'Liberation Sans', Arial, sans-serif" font-size="43.5" font-weight="normal" font-style="normal" text-anchor="start" fill="#1a1a1a" >.2</text>
<text x="2139.30" y="1550.50" font-family="'Liberation Sans', Arial, sans-serif" font-size="43.5" font-weight="normal" font-style="normal" text-anchor="start" fill="#1a1a1a" >0.0</text>
<rect x="1745.00" y="102.80" width="100.50" height="32.70" fill="#000000" stroke="#111" stroke-width="3"/>
<text x="1868.50" y="133.90" font-family="'Liberation Sans', Arial, sans-serif" font-size="44.5" font-weight="normal" font-style="normal" text-anchor="start" fill="#1a1a1a" >LEAF</text>
<rect x="1745.00" y="162.80" width="100.50" height="32.70" fill="#c1c1c1" stroke="#111" stroke-width="3"/>
<text x="1868.50" y="193.20" font-family="'Liberation Sans', Arial, sans-serif" font-size="44.5" font-weight="normal" font-style="normal" text-anchor="start" fill="#1a1a1a" >SHOOT</text>
<rect x="1745.00" y="222.00" width="100.50" height="32.70" fill="#5b5b5b" stroke="#111" stroke-width="3"/>
<text x="1868.50" y="252.40" font-family="'Liberation Sans', Arial, sans-serif" font-size="44.5" font-weight="normal" font-style="normal" text-anchor="start" fill="#1a1a1a" >ROOT</text>
<rect x="1745.00" y="279.80" width="100.50" height="32.70" fill="#dfdfdf" stroke="#111" stroke-width="3"/>
<text x="1868.50" y="312.40" font-family="'Liberation Sans', Arial, sans-serif" font-size="44.5" font-weight="normal" font-style="normal" text-anchor="start" fill="#1a1a1a" >BARK</text>
<rect x="1753.50" y="838.30" width="100.00" height="31.80" fill="#000000" stroke="#111" stroke-width="3"/>
<text x="1998.80" y="870.30" font-family="'Liberation Sans', Arial, sans-serif" font-size="44.5" font-weight="normal" font-style="normal" text-anchor="end" fill="#1a1a1a" >0min</text>
<rect x="1753.50" y="893.20" width="100.00" height="31.80" fill="#c1c1c1" stroke="#111" stroke-width="3"/>
<text x="1998.80" y="924.60" font-family="'Liberation Sans', Arial, sans-serif" font-size="44.5" font-weight="normal" font-style="normal" text-anchor="end" fill="#1a1a1a" >60min</text>
<g transform="translate(414.50,1046.02) scale(1.1,1)">
<text x="-7.32" y="0.00" font-family="'Liberation Sans', Arial, sans-serif" font-size="38.0" font-weight="bold" font-style="normal" text-anchor="start" fill="#000" letter-spacing="7.31" stroke="#000" stroke-width="2.6" stroke-linejoin="round">*</text>
</g>
<g transform="translate(715.20,938.02) scale(1.1,1)">
<text x="-18.36" y="0.00" font-family="'Liberation Sans', Arial, sans-serif" font-size="38.0" font-weight="bold" font-style="normal" text-anchor="start" fill="#000" letter-spacing="7.31" stroke="#000" stroke-width="2.6" stroke-linejoin="round">**</text>
</g>
<g transform="translate(864.50,1142.72) scale(1.1,1)">
<text x="-7.32" y="0.00" font-family="'Liberation Sans', Arial, sans-serif" font-size="38.0" font-weight="bold" font-style="normal" text-anchor="start" fill="#000" letter-spacing="7.31" stroke="#000" stroke-width="2.6" stroke-linejoin="round">*</text>
</g>
<g transform="translate(1337.80,1073.22) scale(1.1,1)">
<text x="-18.36" y="0.00" font-family="'Liberation Sans', Arial, sans-serif" font-size="38.0" font-weight="bold" font-style="normal" text-anchor="start" fill="#000" letter-spacing="7.31" stroke="#000" stroke-width="2.6" stroke-linejoin="round">**</text>
</g>
<g transform="translate(1499.30,1203.82) scale(1.1,1)">
<text x="-28.32" y="0.00" font-family="'Liberation Sans', Arial, sans-serif" font-size="38.0" font-weight="bold" font-style="normal" text-anchor="start" fill="#000" letter-spacing="6.22" stroke="#000" stroke-width="2.6" stroke-linejoin="round">***</text>
</g>
<g transform="translate(1660.70,1505.52) scale(1.1,1)">
<text x="-18.36" y="0.00" font-family="'Liberation Sans', Arial, sans-serif" font-size="38.0" font-weight="bold" font-style="normal" text-anchor="start" fill="#000" letter-spacing="7.31" stroke="#000" stroke-width="2.6" stroke-linejoin="round">**</text>
</g>
<g transform="translate(1820.10,1465.52) scale(1.1,1)">
<text x="-18.36" y="0.00" font-family="'Liberation Sans', Arial, sans-serif" font-size="38.0" font-weight="bold" font-style="normal" text-anchor="start" fill="#000" letter-spacing="7.31" stroke="#000" stroke-width="2.6" stroke-linejoin="round">**</text>
</g>
<g transform="translate(1982.10,1503.02) scale(1.1,1)">
<text x="-18.36" y="0.00" font-family="'Liberation Sans', Arial, sans-serif" font-size="38.0" font-weight="bold" font-style="normal" text-anchor="start" fill="#000" letter-spacing="7.31" stroke="#000" stroke-width="2.6" stroke-linejoin="round">**</text>
</g>
<text x="392.30" y="1575.00" font-family="'Liberation Sans', Arial, sans-serif" font-size="35.5" font-weight="normal" font-style="italic" text-anchor="middle" fill="#1a1a1a" stroke="#1a1a1a" stroke-width="0.7">AUX1</text>
<text x="546.00" y="1575.00" font-family="'Liberation Sans', Arial, sans-serif" font-size="35.5" font-weight="normal" font-style="italic" text-anchor="middle" fill="#1a1a1a" stroke="#1a1a1a" stroke-width="0.7">LAX1</text>
<text x="692.90" y="1575.00" font-family="'Liberation Sans', Arial, sans-serif" font-size="35.5" font-weight="normal" font-style="italic" text-anchor="middle" fill="#1a1a1a" stroke="#1a1a1a" stroke-width="0.7">LAX2</text>
<text x="845.40" y="1575.00" font-family="'Liberation Sans', Arial, sans-serif" font-size="35.5" font-weight="normal" font-style="italic" text-anchor="middle" fill="#1a1a1a" stroke="#1a1a1a" stroke-width="0.7">LAX3</text>
<text x="1155.00" y="1572.40" font-family="'Liberation Sans', Arial, sans-serif" font-size="35.5" font-weight="normal" font-style="italic" text-anchor="middle" fill="#1a1a1a" stroke="#1a1a1a" stroke-width="0.7">PIN1a</text>
<text x="1318.20" y="1572.40" font-family="'Liberation Sans', Arial, sans-serif" font-size="35.5" font-weight="normal" font-style="italic" text-anchor="middle" fill="#1a1a1a" stroke="#1a1a1a" stroke-width="0.7">PIN1b</text>
<text x="1476.30" y="1572.40" font-family="'Liberation Sans', Arial, sans-serif" font-size="35.5" font-weight="normal" font-style="italic" text-anchor="middle" fill="#1a1a1a" stroke="#1a1a1a" stroke-width="0.7">PIN3</text>
<text x="1632.60" y="1572.40" font-family="'Liberation Sans', Arial, sans-serif" font-size="35.5" font-weight="normal" font-style="italic" text-anchor="middle" fill="#1a1a1a" stroke="#1a1a1a" stroke-width="0.7">PIN5</text>
<text x="1800.10" y="1572.40" font-family="'Liberation Sans', Arial, sans-serif" font-size="35.5" font-weight="normal" font-style="italic" text-anchor="middle" fill="#1a1a1a" stroke="#1a1a1a" stroke-width="0.7">PIN6</text>
<text x="1959.00" y="1572.40" font-family="'Liberation Sans', Arial, sans-serif" font-size="35.5" font-weight="normal" font-style="italic" text-anchor="middle" fill="#1a1a1a" stroke="#1a1a1a" stroke-width="0.7">PIN8</text>
<text x="617.50" y="1685.30" font-family="'Liberation Sans', Arial, sans-serif" font-size="44.2" font-weight="normal" font-style="italic" text-anchor="middle" fill="#1a1a1a" stroke="#fff" stroke-width="0.7">BnAUX/LAXs</text>
<text x="1553.00" y="1684.50" font-family="'Liberation Sans', Arial, sans-serif" font-size="45" font-weight="normal" font-style="italic" text-anchor="middle" fill="#1a1a1a" stroke="#fff" stroke-width="0.7">BnPINs</text>
<text transform="translate(68.5,762) rotate(-90)" font-family="&apos;Liberation Serif&apos;, &apos;Times New Roman&apos;, serif" font-size="73" font-weight="bold" text-anchor="middle" fill="#000" stroke="#fff" stroke-width="1.6" textLength="756" lengthAdjust="spacingAndGlyphs">Relative expression level</text>
<text transform="translate(2249.5,766) rotate(90)" font-family="&apos;Liberation Serif&apos;, &apos;Times New Roman&apos;, serif" font-size="73" font-weight="bold" text-anchor="middle" fill="#000" stroke="#fff" stroke-width="1.6" textLength="754" lengthAdjust="spacingAndGlyphs">Relative expression level</text>
</svg>
</body></html>
